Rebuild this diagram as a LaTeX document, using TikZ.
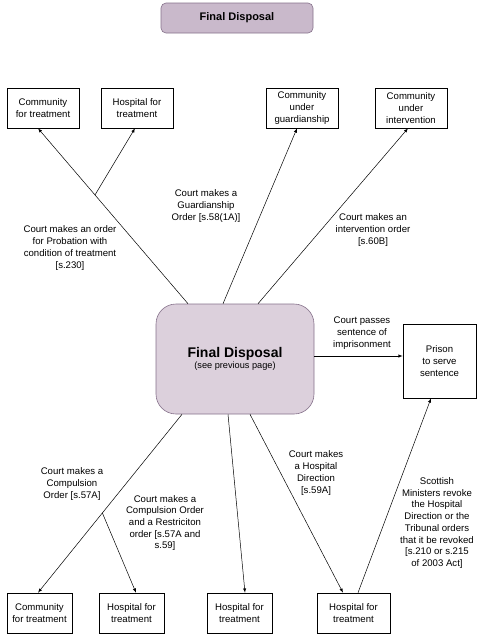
\documentclass[tikz,border=0pt]{standalone}
\usepackage{fontspec}
\setmainfont{Liberation Sans}
\usetikzlibrary{positioning, arrows, shapes}
\definecolor{disptitle}{HTML}{C9B9CB}
\definecolor{dispfill}{HTML}{DCD0DC}
\definecolor{dispedge}{HTML}{85718A}
\tikzstyle{outbox} = [draw, line width=0.6pt, rectangle, align=center, minimum height=40pt, inner sep=1pt, font=\fontsize{9.6}{12}\selectfont]
\tikzstyle{titlebox} = [draw=dispedge, line width=0.6pt, fill=disptitle, rounded corners=5pt, minimum width=152pt, minimum height=30pt, font=\fontsize{11}{13}\selectfont\bfseries]
\tikzstyle{mainbox} = [draw=dispedge, line width=0.6pt, fill=dispfill, rounded corners=20pt, minimum width=158pt, minimum height=110pt, align=center]
\tikzstyle{lbl} = [align=center, inner sep=0pt, font=\fontsize{9.6}{11.7}\selectfont]
\tikzstyle{arrow} = [-latex, line width=0.5pt]

\begin{document}
\begin{tikzpicture}[x=1pt, y=-1pt]
  \useasboundingbox (0,0) rectangle (480,638);
  \node[titlebox] (title) at (237,18) {Final Disposal};
  \node[mainbox] (main) at (235,359) {{\fontsize{14}{16}\selectfont\bfseries Final Disposal}\\[-1pt]
    {\fontsize{9.2}{10}\selectfont (see previous page)}};

  % outcomes above
  \node[outbox, minimum width=72pt] (comtop) at (43,108) {Community\\for treatment};
  \node[outbox, minimum width=72pt] (hosptop) at (137,108) {Hospital for\\treatment};
  \node[outbox, minimum width=72pt] (guard) at (302,108) {Community\\under\\guardianship};
  \node[outbox, minimum width=72pt] (interv) at (411,108) {Community\\under\\intervention};
  \node[outbox, minimum width=73pt, minimum height=74pt] (prison) at (439.5,361) {Prison\\to serve\\sentence};

  % outcomes below
  \node[outbox, minimum width=65pt] (combot) at (39.5,613) {Community\\for treatment};
  \node[outbox, minimum width=65pt] (hospa) at (131.5,613) {Hospital for\\treatment};
  \node[outbox, minimum width=65pt] (hospb) at (239.5,613) {Hospital for\\treatment};
  \node[outbox, minimum width=73pt] (hospc) at (353.5,613) {Hospital for\\treatment};

  % connectors
  \draw[arrow] ([xshift=-47pt]main.north) -- coordinate[pos=0.62] (topfork) ([xshift=-5pt]comtop.south);
  \draw[arrow] (topfork) -- ([xshift=-2pt]hosptop.south);
  \draw[arrow] ([xshift=-12pt]main.north) -- ([xshift=-5pt]guard.south);
  \draw[arrow] ([xshift=23pt]main.north) -- ([xshift=-3pt]interv.south);
  \draw[arrow] ([yshift=3pt]main.east) -- ([yshift=5pt]prison.west);
  \draw[arrow] ([xshift=-53pt]main.south) -- coordinate[pos=0.553] (botfork) ([xshift=-1.5pt]combot.north);
  \draw[arrow] (botfork) -- ([xshift=4.5pt]hospa.north);
  \draw[arrow] ([xshift=-7pt]main.south) -- ([xshift=5.5pt]hospb.north);
  \draw[arrow] ([xshift=15pt]main.south) -- ([xshift=-10.5pt]hospc.north);
  \draw[arrow] ([xshift=4.5pt]hospc.north) -- ([xshift=-8.5pt]prison.south);

  % labels
  \node[lbl] (probation) at (70,248) {Court makes an order\\for Probation with\\condition of treatment\\{[s.230]}};
  \node[lbl] (guardlbl) at (206,206) {Court makes a\\Guardianship\\Order [s.58(1A)]};
  \node[lbl] (intervlbl) at (373,230) {Court makes an\\intervention order\\{[s.60B]}};
  \node[lbl] (prisonlbl) at (362,333) {Court passes\\sentence of\\imprisonment};
  \node[lbl] (compllbl) at (72,484) {Court makes a\\Compulsion\\Order [s.57A]};
  \node[lbl] (restrlbl) at (165,523) {Court makes a\\Compulsion Order\\and a Restriciton\\order [s.57A and\\s.59]};
  \node[lbl] (hdirlbl) at (316,473) {Court makes\\a Hospital\\Direction\\{[s.59A]}};
  \node[lbl] (revokelbl) at (437,523) {Scottish\\Ministers revoke\\the Hospital\\Direction or the\\Tribunal orders\\that it be revoked\\{[s.210 or s.215}\\of 2003 Act]};
\end{tikzpicture}
\end{document}
